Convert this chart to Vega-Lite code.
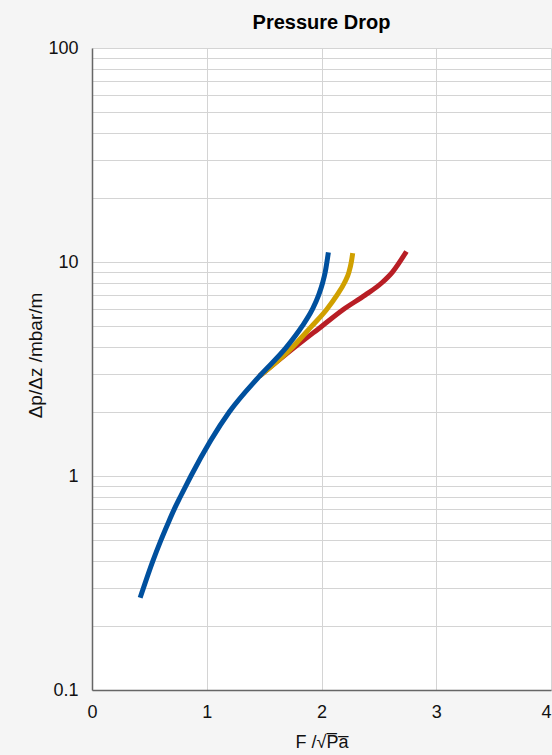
{
  "$schema": "https://vega.github.io/schema/vega-lite/v6.json",
  "width": 459,
  "height": 642,
  "autosize": {"type": "none"},
  "padding": {"left": 92, "top": 48, "right": 1, "bottom": 65},
  "background": "#f5f5f5",
  "config": {
    "font": "Liberation Sans",
    "view": {"fill": "white", "stroke": null}
  },
  "title": {
    "text": "Pressure Drop",
    "fontSize": 20,
    "fontWeight": "bold",
    "color": "#000000",
    "font": "Liberation Sans",
    "baseline": "alphabetic",
    "offset": 17,
    "dy": 27,
    "anchor": "middle"
  },
  "data": {
    "values": [
      {"s": "blue", "F": 0.42, "dp": 0.27},
      {"s": "blue", "F": 0.53, "dp": 0.4},
      {"s": "blue", "F": 0.60, "dp": 0.5},
      {"s": "blue", "F": 0.662, "dp": 0.6},
      {"s": "blue", "F": 0.717, "dp": 0.7},
      {"s": "blue", "F": 0.77, "dp": 0.8},
      {"s": "blue", "F": 0.818, "dp": 0.9},
      {"s": "blue", "F": 0.862, "dp": 1.0},
      {"s": "blue", "F": 1.199, "dp": 2.0},
      {"s": "blue", "F": 1.46, "dp": 2.93},
      {"s": "blue", "F": 1.695, "dp": 4.0},
      {"s": "blue", "F": 1.83, "dp": 5.0},
      {"s": "blue", "F": 1.92, "dp": 6.0},
      {"s": "blue", "F": 1.975, "dp": 7.0},
      {"s": "blue", "F": 2.01, "dp": 8.0},
      {"s": "blue", "F": 2.033, "dp": 9.0},
      {"s": "blue", "F": 2.06, "dp": 11.1},
      {"s": "yellow", "F": 1.46, "dp": 2.93},
      {"s": "yellow", "F": 1.747, "dp": 4.0},
      {"s": "yellow", "F": 1.913, "dp": 5.0},
      {"s": "yellow", "F": 2.045, "dp": 6.0},
      {"s": "yellow", "F": 2.135, "dp": 7.0},
      {"s": "yellow", "F": 2.2, "dp": 8.0},
      {"s": "yellow", "F": 2.24, "dp": 9.0},
      {"s": "yellow", "F": 2.26, "dp": 10.0},
      {"s": "yellow", "F": 2.272, "dp": 11.0},
      {"s": "red", "F": 1.46, "dp": 2.93},
      {"s": "red", "F": 1.768, "dp": 4.0},
      {"s": "red", "F": 2.0, "dp": 5.0},
      {"s": "red", "F": 2.19, "dp": 6.0},
      {"s": "red", "F": 2.38, "dp": 7.0},
      {"s": "red", "F": 2.526, "dp": 8.0},
      {"s": "red", "F": 2.62, "dp": 9.0},
      {"s": "red", "F": 2.74, "dp": 11.2}
    ]
  },
  "encoding": {
    "x": {
      "field": "F",
      "type": "quantitative",
      "scale": {"domain": [0, 4], "nice": false, "zero": false},
      "axis": {
        "title": "F /√P\u0305a\u0305",
        "titleFont": "Liberation Sans",
        "titleFontSize": 18,
        "titleFontWeight": "normal",
        "titleColor": "#111111",
        "titleBaseline": "alphabetic",
        "titleY": 57,
        "values": [0, 1, 2, 3, 4],
        "format": "d",
        "labelFontSize": 18,
        "labelColor": "#111111",
        "labelPadding": 13,
        "labelFlush": false,
        "labelAlign": {"condition": {"test": "datum.value == 4", "value": "right"}, "value": "center"},
        "ticks": false,
        "domainColor": "#666666",
        "domainWidth": 1.5,
        "grid": true,
        "gridColor": "#d4d4d4",
        "gridWidth": 1
      }
    },
    "y": {
      "field": "dp",
      "type": "quantitative",
      "scale": {"type": "log", "domain": [0.1, 100], "nice": false},
      "axis": {
        "title": "Δp/Δz /mbar/m",
        "titleFont": "Liberation Sans",
        "titleFontSize": 19,
        "titleFontWeight": "normal",
        "titleColor": "#111111",
        "titleAngle": -90,
        "titleAlign": "center",
        "titleBaseline": "middle",
        "titleX": -57,
        "titleY": 307,
        "values": [0.1, 0.2, 0.3, 0.4, 0.5, 0.6, 0.7, 0.8, 0.9, 1, 2, 3, 4, 5, 6, 7, 8, 9, 10, 20, 30, 40, 50, 60, 70, 80, 90, 100],
        "format": "~g",
        "labelExpr": "(datum.value == 0.1 || datum.value == 1 || datum.value == 10 || datum.value == 100) ? datum.label : ''",
        "labelFontSize": 18,
        "labelColor": "#111111",
        "labelPadding": 14,
        "labelFlush": false,
        "ticks": false,
        "domainColor": "#666666",
        "domainWidth": 1.5,
        "grid": true,
        "gridColor": "#d4d4d4",
        "gridWidth": 1
      }
    }
  },
  "layer": [
    {
      "transform": [{"filter": "datum.s == 'red'"}],
      "mark": {"type": "line", "color": "#b81e25", "strokeWidth": 5, "interpolate": "monotone", "strokeCap": "butt"}
    },
    {
      "transform": [{"filter": "datum.s == 'yellow'"}],
      "mark": {"type": "line", "color": "#d0a000", "strokeWidth": 5, "interpolate": "monotone", "strokeCap": "butt"}
    },
    {
      "transform": [{"filter": "datum.s == 'blue'"}],
      "mark": {"type": "line", "color": "#00509e", "strokeWidth": 5, "interpolate": "monotone", "strokeCap": "butt"}
    }
  ]
}
